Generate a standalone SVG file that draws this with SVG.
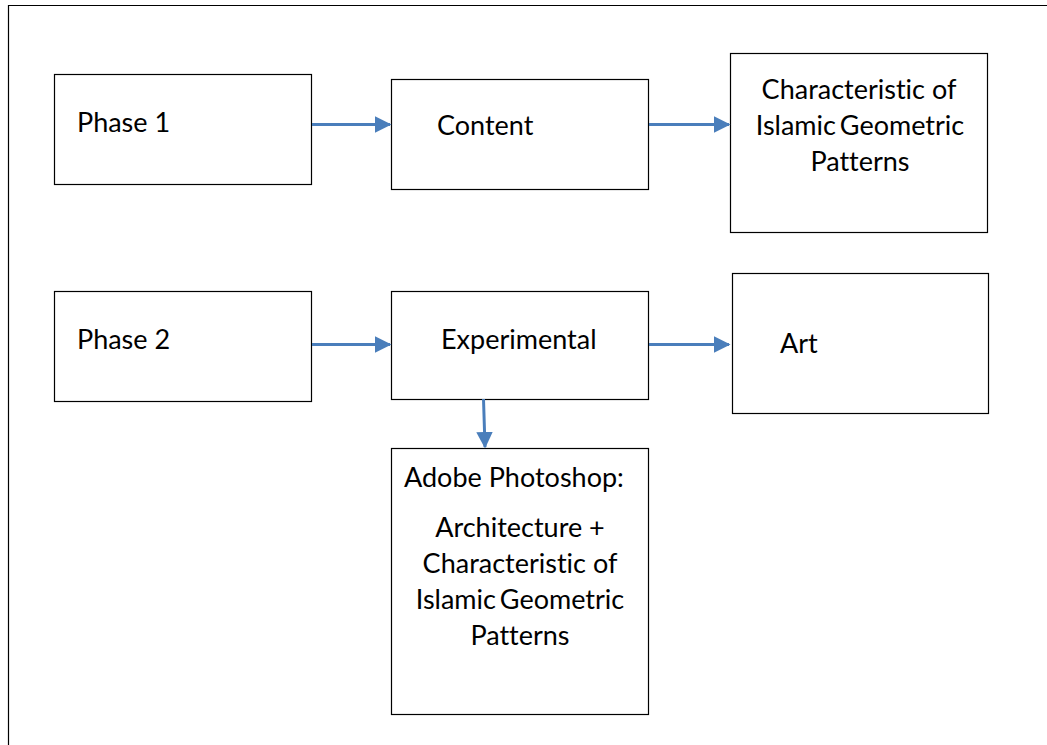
<svg xmlns="http://www.w3.org/2000/svg" width="1047" height="745" viewBox="0 0 1047 745">
  <style>
    .box { fill: #ffffff; stroke: #000000; stroke-width: 1.2; }
    .lbl { font-family: Lato, "Liberation Sans", sans-serif; font-size: 27px; fill: #000000; font-variant-ligatures: none; }
    .mid { text-anchor: middle; }
    .tight { word-spacing: -3px; }
    .conn { stroke: #4a7ebb; stroke-width: 3; fill: none; marker-end: url(#arrow); }
  </style>
  <defs>
    <marker id="arrow" markerWidth="5.5" markerHeight="5.5" refX="5" refY="2.75" orient="auto" markerUnits="strokeWidth">
      <path d="M0,0 L5.5,2.75 L0,5.5 Z" fill="#4a7ebb"/>
    </marker>
  </defs>
  <rect x="0" y="0" width="1047" height="745" fill="#ffffff"/>
  <!-- page frame -->
  <path d="M8.5,745 V5.5 H1047" fill="none" stroke="#000000" stroke-width="1.2"/>

  <g id="phase1">
    <rect class="box" x="54.5" y="74.5" width="257" height="110"/>
    <text class="lbl" x="77" y="132">Phase 1</text>
  </g>
  <g id="content">
    <rect class="box" x="391.5" y="79.5" width="257" height="110"/>
    <text class="lbl" x="437" y="135">Content</text>
  </g>
  <g id="characteristic">
    <rect class="box" x="730.5" y="53.5" width="257" height="179"/>
    <text class="lbl mid" x="859" y="99">Characteristic of</text>
    <text class="lbl mid tight" x="860" y="135">Islamic Geometric</text>
    <text class="lbl mid" x="860" y="171">Patterns</text>
  </g>
  <g id="phase2">
    <rect class="box" x="54.5" y="291.5" width="257" height="110"/>
    <text class="lbl" x="77" y="349">Phase 2</text>
  </g>
  <g id="experimental">
    <rect class="box" x="391.5" y="291.5" width="257" height="108"/>
    <text class="lbl" x="441" y="349">Experimental</text>
  </g>
  <g id="art">
    <rect class="box" x="732.5" y="273.5" width="256" height="140"/>
    <text class="lbl" x="780" y="353">Art</text>
  </g>
  <g id="photoshop">
    <rect class="box" x="391.5" y="448.5" width="257" height="266"/>
    <text class="lbl" x="404" y="487">Adobe Photoshop:</text>
    <text class="lbl mid" x="520" y="537">Architecture +</text>
    <text class="lbl mid" x="520" y="573">Characteristic of</text>
    <text class="lbl mid tight" x="520" y="609">Islamic Geometric</text>
    <text class="lbl mid" x="520" y="645">Patterns</text>
  </g>

  <g id="connectors">
    <line class="conn" x1="312" y1="124.5" x2="390" y2="124.5"/>
    <line class="conn" x1="649" y1="124.5" x2="729" y2="124.5"/>
    <line class="conn" x1="312" y1="344.5" x2="390" y2="344.5"/>
    <line class="conn" x1="649" y1="344.5" x2="729" y2="344.5"/>
    <line class="conn" x1="483.5" y1="399" x2="485" y2="447"/>
  </g>
</svg>
